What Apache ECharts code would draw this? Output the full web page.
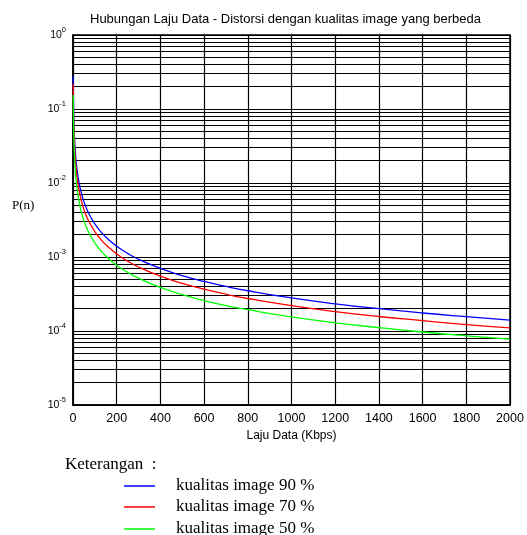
<!DOCTYPE html>
<html><head><meta charset="utf-8">
<script src="https://cdn.jsdelivr.net/npm/echarts@6/dist/echarts.min.js"></script>
<style>html,body{margin:0;padding:0;background:#fff}#c{width:527px;height:535px}</style>
</head><body><div id="c"></div>
<script>
const xValues = [1, 3, 6, 10, 15, 20, 30, 40, 50, 70, 100, 130, 160, 200, 250, 300, 400, 500, 600, 700, 800, 1000, 1200, 1400, 1600, 1800, 2000];
const q90 = [0.28, 0.0933, 0.0467, 0.028, 0.0187, 0.014, 0.00933, 0.007, 0.0056, 0.004, 0.0028, 0.00215, 0.00175, 0.0014, 0.00112, 0.000933, 0.0007, 0.00056, 0.000467, 0.0004, 0.00035, 0.00028, 0.000233, 0.0002, 0.000175, 0.000156, 0.00014];
const q70 = [0.22, 0.0733, 0.0367, 0.022, 0.0147, 0.011, 0.00733, 0.0055, 0.0044, 0.00314, 0.0022, 0.00169, 0.00138, 0.0011, 0.00088, 0.000733, 0.00055, 0.00044, 0.000367, 0.000314, 0.000275, 0.00022, 0.000183, 0.000157, 0.000138, 0.000122, 0.00011];
const q50 = [0.155, 0.0517, 0.0258, 0.0155, 0.0103, 0.00775, 0.00517, 0.00388, 0.0031, 0.00221, 0.00155, 0.00119, 0.00097, 0.000775, 0.00062, 0.000517, 0.000388, 0.00031, 0.000258, 0.000221, 0.000194, 0.000155, 0.000129, 0.000111, 0.0000969, 0.0000861, 0.0000775];
const seriesNames = ['kualitas image 90 %', 'kualitas image 70 %', 'kualitas image 50 %'];
const seriesColors = ['#0000ff', '#ff0000', '#00ff00'];
const titleText = 'Hubungan Laju Data - Distorsi dengan kualitas image yang berbeda';
const xName = 'Laju Data (Kbps)';
const yName = 'P(n)';
const legendTitle = 'Keterangan  :';

const minorLines = [];
for (let d = -5; d < 0; d++) for (let k = 2; k <= 9; k++) minorLines.push({ yAxis: k * Math.pow(10, d) });

const chart = echarts.init(document.getElementById('c'), null, { renderer: 'canvas' });
const mk = (arr) => xValues.map((x, i) => [x, arr[i]]);
const allData = [q90, q70, q50];
const series = allData.map((arr, i) => ({
  name: seriesNames[i], type: 'line', data: mk(arr), showSymbol: false,
  smooth: 0.5,
  lineStyle: { color: seriesColors[i], width: 1.3 }, itemStyle: { color: seriesColors[i] }, z: 20
}));
series.unshift({
  type: 'line', data: [], silent: true, z: 1,
  markLine: { silent: true, symbol: 'none', label: { show: false }, z: 1, precision: 12,
    lineStyle: { color: '#000', width: 1.2, type: 'solid' }, data: minorLines, animation: false }
});
const legendRowTops = [476, 497, 519];
const legends = seriesNames.map((n, i) => ({
  data: [n], orient: 'vertical', left: 124, top: legendRowTops[i], padding: 0, icon: 'rect', itemWidth: 31, itemHeight: 1.5,
  textStyle: { fontFamily: 'Liberation Serif', fontSize: 17, color: '#000', lineHeight: 20, padding: [0, 0, 0, 16] }
}));
chart.setOption({
  animation: false,
  title: { text: titleText, left: 90, top: 13, padding: 0, textStyle: { fontFamily: 'Liberation Sans', fontSize: 13, fontWeight: 'normal', color: '#000' } },
  grid: { left: 73, right: 17, top: 35, bottom: 130, show: true, borderColor: '#000', borderWidth: 1.5 },
  legend: legends,
  xAxis: {
    type: 'value', min: 0, max: 2000, interval: 200,
    name: xName, nameLocation: 'middle', nameGap: 25,
    nameTextStyle: { fontFamily: 'Liberation Sans', fontSize: 12, color: '#000' },
    axisLine: { lineStyle: { color: '#000', width: 1.5 } }, axisTick: { show: false },
    axisLabel: { fontFamily: 'Liberation Sans', fontSize: 12.5, color: '#000', margin: 7, formatter: (v) => String(v) },
    splitLine: { show: true, lineStyle: { color: '#000', width: 1.2 } }
  },
  yAxis: {
    type: 'log', logBase: 10, min: 1e-5, max: 1,
    axisLine: { show: true, lineStyle: { color: '#000', width: 1.5 } }, axisTick: { show: false },
    axisLabel: {
      margin: 7, color: '#000',
      formatter: (v) => '{b|10}{s|' + Math.round(Math.log10(v)) + '}',
      rich: { b: { fontFamily: 'Liberation Sans', fontSize: 10.5, color: '#000' },
              s: { fontFamily: 'Liberation Sans', fontSize: 7.5, color: '#000', padding: [0, 0, 10, 0] } }
    },
    splitLine: { show: true, lineStyle: { color: '#000', width: 1.2 } }
  },
  graphic: [
    { type: 'text', left: 12, top: 199, style: { text: yName, font: '13px "Liberation Serif"', fill: '#000' } },
    { type: 'text', left: 65, top: 456, style: { text: legendTitle, font: '17px "Liberation Serif"', fill: '#000' } }
  ],
  series: series
});
</script></body></html>
